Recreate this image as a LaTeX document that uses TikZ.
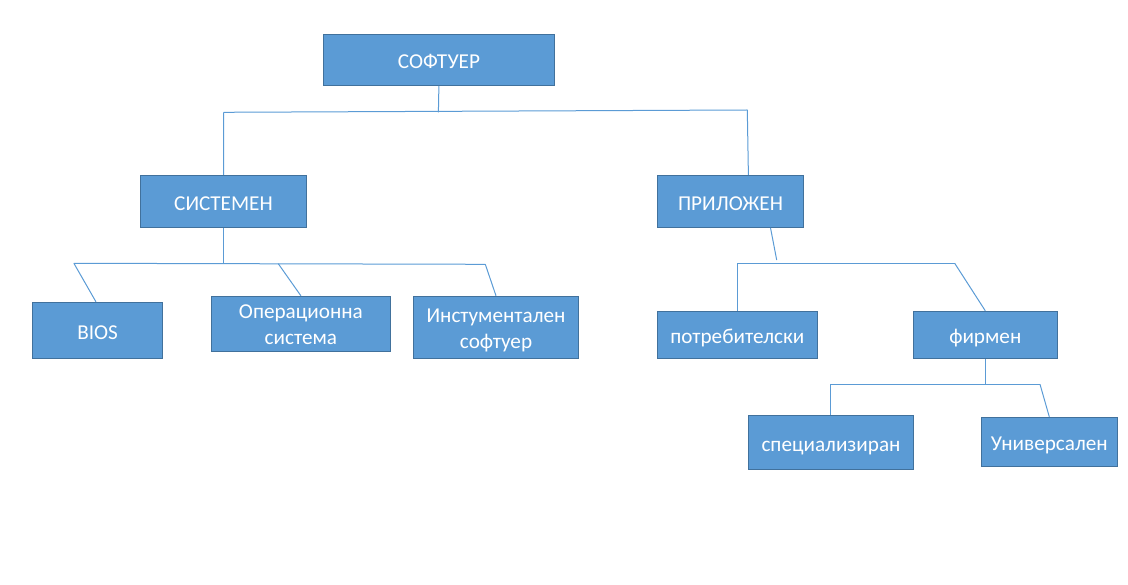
\documentclass[tikz,border=0pt]{standalone}
\usepackage{fontspec}
\setmainfont{Carlito}
\usetikzlibrary{calc}
\definecolor{boxfill}{HTML}{5B9BD5}
\definecolor{boxedge}{HTML}{41719C}
\definecolor{linec}{HTML}{5B9BD5}
\newcommand{\twolines}[2]{\begin{tabular}[t]{@{}c@{}}#1\\#2\end{tabular}}
\tikzset{
  box/.style={draw=boxedge, line width=1pt, fill=boxfill, text=white, inner sep=0pt,
    font=\fontsize{21.2}{26}\selectfont, text height=18pt, text depth=0.5pt},
  twoline/.style={text height=16pt, text depth=25.5pt},
  conn/.style={draw=linec, line width=1pt}
}
\begin{document}
\begin{tikzpicture}[x=1pt,y=-1pt]
\useasboundingbox (0,0) rectangle (1128,585);
\node[box, minimum width=231.8pt, minimum height=51pt] (sof) at (438.9,59.8) {СОФТУЕР};
\node[box, minimum width=166.1pt, minimum height=52pt] (sys) at (223.5,201.3) {СИСТЕМЕН};
\node[box, minimum width=146.4pt, minimum height=52pt] (app) at (730.5,201.3) {ПРИЛОЖЕН};
\node[box, minimum width=130.1pt, minimum height=56.4pt] (bios) at (97.6,330.5) {BIOS};
\node[box, twoline, text depth=26pt, minimum width=179.1pt, minimum height=55.4pt] (os) at (300.9,324) {\twolines{Операционна}{система}};
\node[box, twoline, minimum width=165.3pt, minimum height=62.4pt] (inst) at (496,327.5) {\twolines{Инстументален}{софтуер}};
\node[box, minimum width=160pt, minimum height=47.4pt] (usr) at (737.3,335) {потребителски};
\node[box, minimum width=144pt, minimum height=47.4pt] (firm) at (985.3,335) {фирмен};
\node[box, minimum width=165.4pt, minimum height=54pt] (spec) at (831,442.3) {специализиран};
\node[box, minimum width=136pt, minimum height=48.7pt] (univ) at (1049.3,441.7) {Универсален};

% level 1 junction
\coordinate (j0) at (438.4,112.3);
\coordinate (j0L) at (223.7,112.3);
\coordinate (j0R) at (747.3,110);
\draw[conn] (sof.south) -- (j0);
\draw[conn] (j0L) -- (j0R);
\draw[conn] (j0L) -- (sys.north);
\draw[conn] (j0R) -- ($(app.north)+(17.9,0)$);

% system children
\coordinate (j1) at (223.5,263.3);
\coordinate (j1L) at (73.9,263.3);
\coordinate (j1M) at (278.2,263.6);
\coordinate (j1R) at (485.3,264.3);
\draw[conn] (sys.south) -- (j1);
\draw[conn] (j1L) -- (j1R);
\draw[conn] (j1L) -- ($(bios.north west)+(63.9,0)$);
\draw[conn] (j1M) -- (os.north);
\draw[conn] (j1R) -- (inst.north);

% application children
\coordinate (j2) at (776.7,260);
\coordinate (j2L) at (737.3,263.3);
\coordinate (j2R) at (954.7,263.3);
\draw[conn] ($(app.south east)+(-33.7,0)$) -- (j2);
\draw[conn] (j2L) -- (j2R);
\draw[conn] (j2L) -- (usr.north);
\draw[conn] (j2R) -- (firm.north);

% firm children
\coordinate (j3) at (985.3,384.3);
\coordinate (j3L) at (830.3,384.3);
\coordinate (j3R) at (1040,384.3);
\draw[conn] (firm.south) -- (j3);
\draw[conn] (j3L) -- (j3R);
\draw[conn] (j3L) -- (j3L |- spec.north);
\draw[conn] (j3R) -- (univ.north);
\end{tikzpicture}
\end{document}
